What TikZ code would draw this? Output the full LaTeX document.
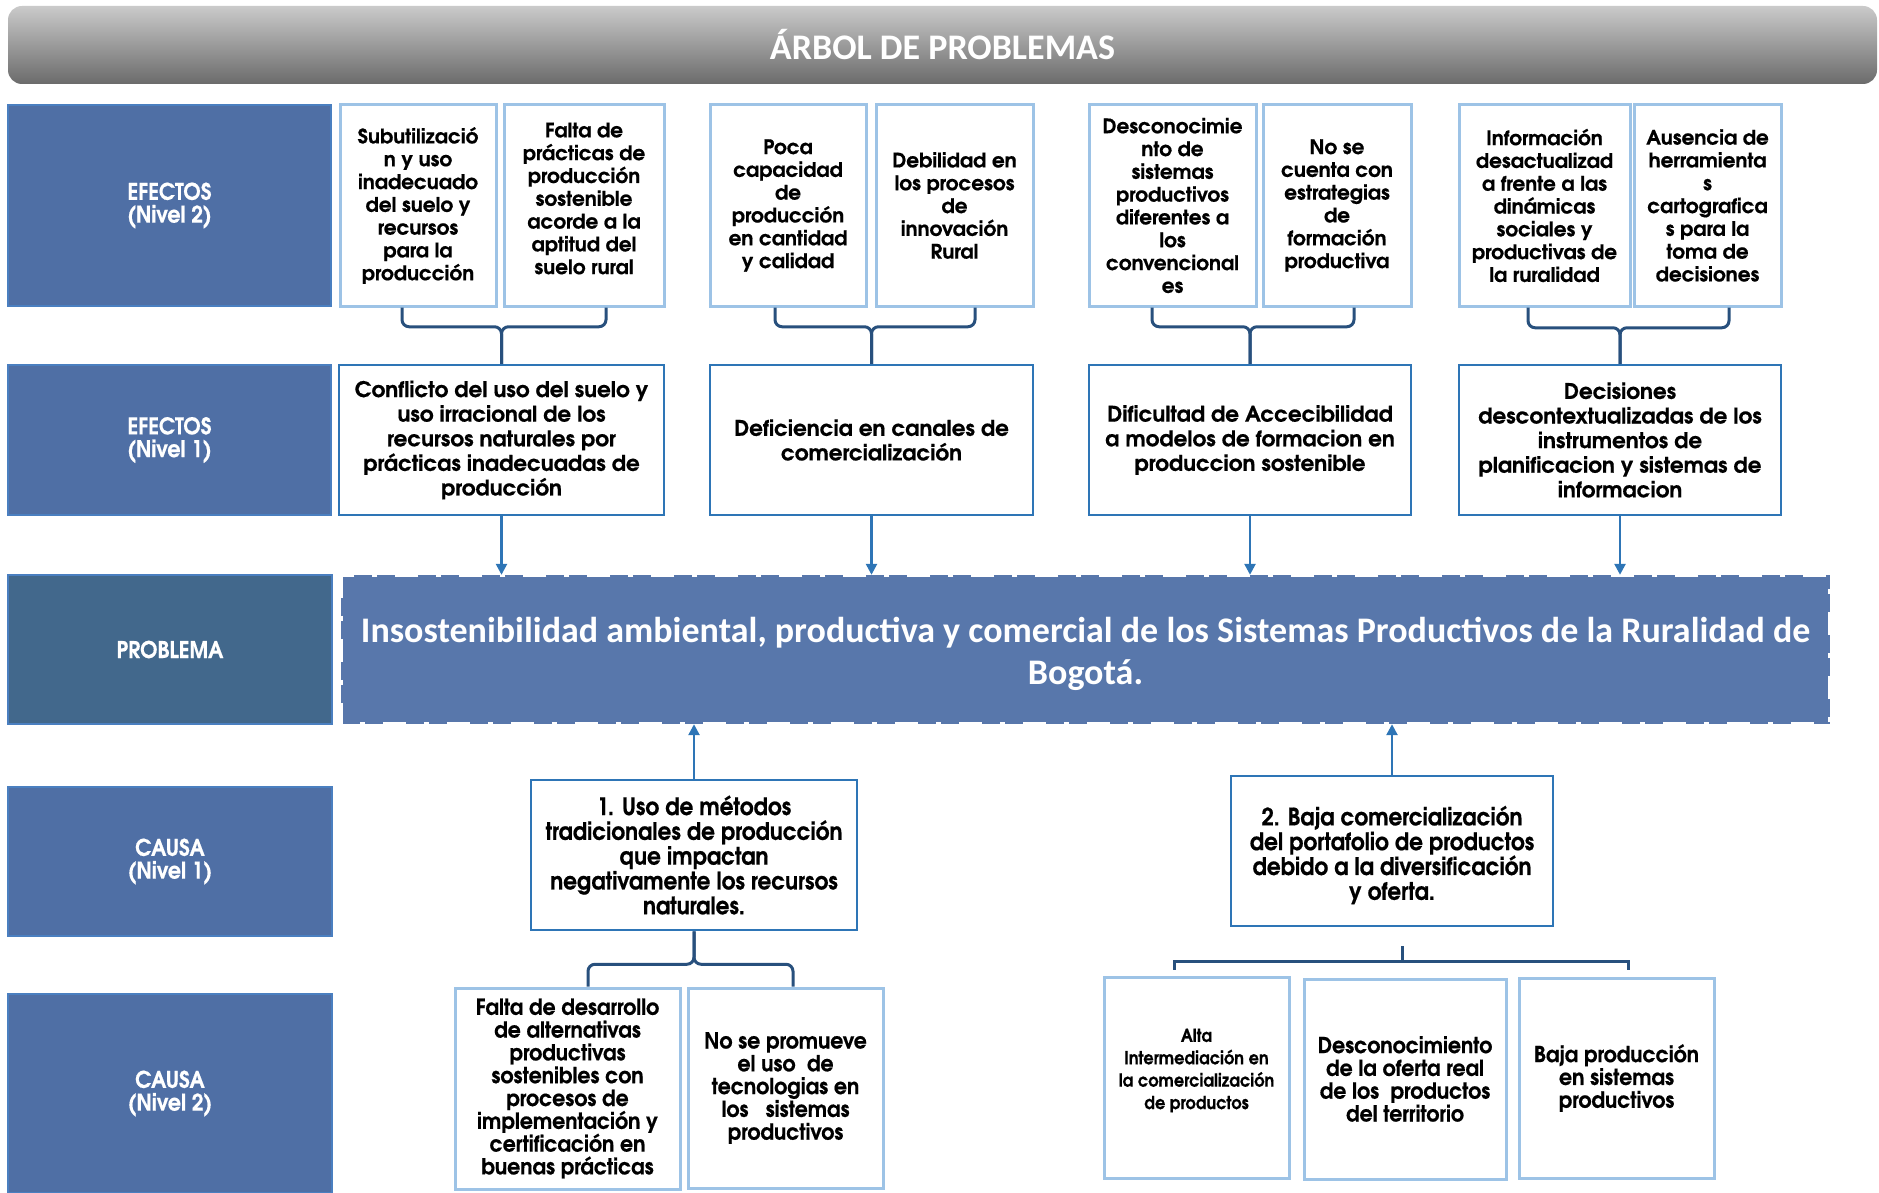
\documentclass[tikz,border=0pt]{standalone}
\usepackage{fontspec}
\usetikzlibrary{arrows.meta,calc}
\newfontfamily\gothic{texgyreadventor}[Extension=.otf,UprightFont=*-regular,BoldFont=*-bold,BoldFeatures={FakeBold=0.5}]
\newfontfamily\gothicn{texgyreadventor}[Extension=.otf,UprightFont=*-regular,BoldFont=*-bold,FakeStretch=0.9,BoldFeatures={FakeBold=0.5}]
\newfontfamily\gothicm{texgyreadventor}[Extension=.otf,UprightFont=*-regular,BoldFont=*-bold,FakeStretch=0.93,BoldFeatures={FakeBold=0.5}]
\newfontfamily\calib{Carlito}
\newcommand\fs[2]{\fontsize{#1}{#2}\selectfont}
\definecolor{labfill}{HTML}{4F6FA5}
\definecolor{labfilltwo}{HTML}{42688C}
\definecolor{labline}{HTML}{4A7FC0}
\definecolor{probfill}{HTML}{5877AB}
\definecolor{darkb}{HTML}{2E75B6}
\definecolor{lightb}{HTML}{9DC3E6}
\definecolor{bracec}{HTML}{28507D}
\definecolor{arrc}{HTML}{2E75B6}
\definecolor{titletop}{HTML}{CACACA}
\definecolor{titlebot}{HTML}{6B6B6B}
\begin{document}
\begin{tikzpicture}[x=1pt,y=-1pt,
  titlebar/.style={rounded corners=14pt, top color=titletop, bottom color=titlebot, text=white, font=\calib\bfseries\fs{36}{40}, inner sep=0pt},
  lab/.style={draw=labline, line width=1.5pt, fill=labfill, text=white, align=center, font=\gothicn\bfseries\fs{23}{22.8}, inner sep=0pt},
  eff2/.style={draw=lightb, line width=3pt, fill=white, align=center, font=\gothic\bfseries\fs{20}{22.8}, inner sep=0pt},
  eff2txt/.style={align=center, font=\gothic\bfseries\fs{20}{22.8}, inner sep=0pt},
  eff1/.style={draw=darkb, line width=2.5pt, fill=white, align=center, font=\gothic\bfseries\fs{21.5}{24.6}, inner sep=0pt},
  cau1/.style={eff1, font=\gothicn\bfseries\fs{24}{24.8}},
  cau1txt/.style={align=center, font=\gothicn\bfseries\fs{24}{24.8}, inner sep=0pt},
  cau2/.style={eff2, font=\gothicm\bfseries\fs{22}{22.8}},
  cau2txt/.style={align=center, font=\gothicn\bfseries\fs{18}{22.4}, inner sep=0pt},
  probbox/.style={fill=probfill, draw=none, inner sep=0pt},
  probtxt/.style={text=white, align=center, font=\calib\bfseries\fs{36}{42}, inner sep=0pt},
  brace/.style={draw=bracec, line width=3pt, rounded corners=7pt},
  bracket/.style={draw=bracec, line width=3pt},
  arr/.style={draw=arrc, line width=2.5pt, -{Triangle[length=11pt,width=11pt]}}
]
\useasboundingbox (0,0) rectangle (1879,1193);

% title
\node[titlebar, minimum width=1869, minimum height=78] (title) at (942.5,45) {ÁRBOL DE PROBLEMAS};

% left labels
\node[lab, minimum width=323, minimum height=201] (lab1) at (169.5,205.5) {EFECTOS\\(Nivel 2)};
\node[lab, minimum width=323, minimum height=150] (lab2) at (169.5,440) {EFECTOS\\(Nivel 1)};
\node[lab, fill=labfilltwo, minimum width=324, minimum height=149] (lab3) at (170,649.5) {PROBLEMA};
\node[lab, minimum width=324, minimum height=149] (lab4) at (170,861.5) {CAUSA\\(Nivel 1)};
\node[lab, minimum width=324, minimum height=199] (lab5) at (170,1093.5) {CAUSA\\(Nivel 2)};

% effects level 2
\node[eff2, minimum width=156, minimum height=201] (e2a) at (418,205.5) {Subutilizació\\n y uso\\inadecuado\\del suelo y\\recursos\\para la\\producción};
\node[eff2, minimum width=160, minimum height=201, label={[eff2txt, yshift=7pt]center:{Falta de\\prácticas de\\producción\\sostenible\\acorde a la\\aptitud del\\suelo rural}}] (e2b) at (584,205.5) {};
\node[eff2, minimum width=156, minimum height=201] (e2c) at (788,205.5) {Poca\\capacidad\\de\\producción\\en cantidad\\y calidad};
\node[eff2, minimum width=157, minimum height=201] (e2d) at (954.5,205.5) {Debilidad en\\los procesos\\de\\innovación\\Rural};
\node[eff2, minimum width=167, minimum height=201] (e2e) at (1172.5,205.5) {Desconocimie\\nto de\\sistemas\\productivos\\diferentes a\\los\\convencional\\es};
\node[eff2, minimum width=148, minimum height=201] (e2f) at (1337,205.5) {No se\\cuenta con\\estrategias\\de\\formación\\productiva};
\node[eff2, minimum width=171, minimum height=201] (e2g) at (1544.5,205.5) {Información\\desactualizad\\a frente a las\\dinámicas\\sociales y\\productivas de\\la ruralidad};
\node[eff2, minimum width=147, minimum height=201] (e2h) at (1707.5,205.5) {Ausencia de\\herramienta\\s\\cartografica\\s para la\\toma de\\decisiones};

% effects level 1
\node[eff1, minimum width=325, minimum height=150] (e1a) at (501.5,440) {Conflicto del uso del suelo y\\uso irracional de los\\recursos naturales por\\prácticas inadecuadas de\\producción};
\node[eff1, minimum width=323, minimum height=150] (e1b) at (871.5,440) {Deficiencia en canales de\\comercialización};
\node[eff1, minimum width=322, minimum height=150] (e1c) at (1250,440) {Dificultad de Accecibilidad\\a modelos de formacion en\\produccion sostenible};
\node[eff1, minimum width=322, minimum height=150] (e1d) at (1620,440) {Decisiones\\descontextualizadas de los\\instrumentos de\\planificacion y sistemas de\\informacion};

% problem
\node[probbox, minimum width=1489, minimum height=149, label={[probtxt, yshift=-4pt]center:{Insostenibilidad ambiental, productiva y comercial de los Sistemas Productivos de la Ruralidad de\\Bogotá.}}] (prob) at (1085.5,649.5) {};
\draw[white, line width=5pt, dash pattern=on 23pt off 18pt on 5pt off 18pt] (prob.north west) rectangle (prob.south east);

% causes level 1
\node[cau1, minimum width=326, minimum height=150] (c1a) at (694,855) {1. Uso de métodos\\tradicionales de producción\\que impactan\\negativamente los recursos\\naturales.};
\node[cau1, minimum width=322, minimum height=150, label={[cau1txt, yshift=-4pt]center:{2. Baja comercialización\\del portafolio de productos\\debido a la diversificación\\y oferta.}}] (c1b) at (1392,851) {};

% causes level 2
\node[cau2, minimum width=225, minimum height=201] (c2a) at (567.5,1088.5) {Falta de desarrollo\\de alternativas\\productivas\\sostenibles con\\procesos de\\implementación y\\certificación en\\buenas prácticas};
\node[cau2, minimum width=195, minimum height=200] (c2b) at (785.5,1088) {No se promueve\\el uso\ \ de\\tecnologias en\\los\ \ \ sistemas\\productivos};
\node[cau2, minimum width=185, minimum height=201, label={[cau2txt, yshift=7pt]center:{Alta\\Intermediación en\\la comercialización\\de productos}}] (c2c) at (1196.5,1077.5) {};
\node[cau2, minimum width=202, minimum height=200] (c2d) at (1405,1079) {Desconocimiento\\de la oferta real\\de los\ \ productos\\del territorio};
\node[cau2, minimum width=195, minimum height=200] (c2e) at (1616.5,1078) {Baja producción\\en sistemas\\productivos};

% braces effects
\draw[brace] ([xshift=-16pt]e2a.south) |- ([yshift=37pt]e1a.north) -- (e1a.north);
\draw[brace] ([xshift=22pt]e2b.south) |- ([yshift=37pt]e1a.north) -- (e1a.north);
\draw[brace] ([xshift=-13pt]e2c.south) |- ([yshift=37pt]e1b.north) -- (e1b.north);
\draw[brace] ([xshift=20.5pt]e2d.south) |- ([yshift=37pt]e1b.north) -- (e1b.north);
\draw[brace] ([xshift=-20.5pt]e2e.south) |- ([yshift=37pt]e1c.north) -- (e1c.north);
\draw[brace] ([xshift=17pt]e2f.south) |- ([yshift=37pt]e1c.north) -- (e1c.north);
\draw[brace] ([xshift=-16.5pt]e2g.south) |- ([yshift=36pt]e1d.north) -- (e1d.north);
\draw[brace] ([xshift=21.5pt]e2h.south) |- ([yshift=36pt]e1d.north) -- (e1d.north);

% arrows to problem
\draw[arr] (e1a.south) -- (e1a.south |- prob.north);
\draw[arr] (e1b.south) -- (e1b.south |- prob.north);
\draw[arr] (e1c.south) -- (e1c.south |- prob.north);
\draw[arr] (e1d.south) -- (e1d.south |- prob.north);
\draw[arr] (c1a.north) -- (c1a.north |- prob.south);
\draw[arr] (c1b.north) -- (c1b.north |- prob.south);

% brace under cause 1
\draw[brace] ([xshift=20.5pt]c2a.north) |- ([yshift=-33pt]c1a.south) -- (c1a.south);
\draw[brace] ([xshift=7.5pt]c2b.north) |- ([yshift=-33pt]c1a.south) -- (c1a.south);

% bracket under cause 2
\coordinate (g6) at ([xshift=10pt,yshift=-34pt]c1b.south);
\draw[bracket] (g6) -- ([xshift=10pt,yshift=-19pt]c1b.south);
\draw[bracket] ([xshift=-22.5pt,yshift=6pt]c2c.north) |- (g6) -| ([xshift=11.5pt,yshift=7pt]c2e.north);
\end{tikzpicture}
\end{document}
